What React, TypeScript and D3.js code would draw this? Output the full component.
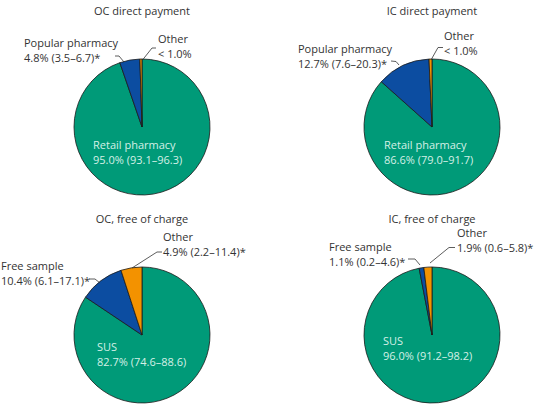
import React from 'react'
import * as d3 from 'd3'

// slice order (clockwise from 12 o'clock): main, second, other
const directCategories = ['Retail pharmacy', 'Popular pharmacy', 'Other']
const freeCategories = ['SUS', 'Free sample', 'Other']

const ocDirectValues = [95.0, 4.8, 0.5]
const icDirectValues = [86.6, 12.7, 0.7]
const ocFreeValues = [82.7, 10.4, 4.9]
const icFreeValues = [96.0, 1.1, 1.9]

const ocDirectLabels = ['95.0% (93.1–96.3)', '4.8% (3.5–6.7)*', '< 1.0%']
const icDirectLabels = ['86.6% (79.0–91.7)', '12.7% (7.6–20.3)*', '< 1.0%']
const ocFreeLabels = ['82.7% (74.6–88.6)', '10.4% (6.1–17.1)*', '4.9% (2.2–11.4)*']
const icFreeLabels = ['96.0% (91.2–98.2)', '1.1% (0.2–4.6)*', '1.9% (0.6–5.8)*']

const titles = ['OC direct payment', 'IC direct payment', 'OC, free of charge', 'IC, free of charge']

const colors = ['#009A78', '#0C4DA1', '#F39200']
const FONT = '"Open Sans", sans-serif'

interface PanelProps {
  cx: number
  cy: number
  title: string
  titleY: number
  categories: string[]
  values: number[]
  labels: string[]
  inner: [number, number]
  second: { x: number; y: number; leader: [number, number][] }
  other: { x: number; y: number; leader: [number, number][] }
}

const r = 68
const lh = 15

const Panel: React.FC<PanelProps> = ({ cx, cy, title, titleY, categories, values, labels, inner, second, other }) => {
  const pie = d3.pie<number>().sort(null).value(d => d)
  const arc = d3.arc<d3.PieArcDatum<number>>().innerRadius(0).outerRadius(r)
  const arcs = pie(values)
  const line = d3.line()
  return (
    <g>
      <text x={cx} y={titleY} textAnchor="middle" fontSize={11} fill="#333">{title}</text>
      <g transform={`translate(${cx},${cy})`}>
        {arcs.map((a, i) => (
          <path key={i} d={arc(a) || ''} fill={colors[i]} stroke="#1a1a1a" strokeWidth={0.8} strokeLinejoin="round" />
        ))}
        <text x={inner[0]} y={inner[1]} fontSize={11} fill="#d4f0e6">
          <tspan x={inner[0]}>{categories[0]}</tspan>
          <tspan x={inner[0]} dy={lh}>{labels[0]}</tspan>
        </text>
      </g>
      <text x={second.x} y={second.y} fontSize={11} fill="#333">
        <tspan x={second.x}>{categories[1]}</tspan>
        <tspan x={second.x} dy={lh}>{labels[1]}</tspan>
      </text>
      <text x={other.x} y={other.y} fontSize={11} fill="#333">
        <tspan x={other.x}>{categories[2]}</tspan>
        <tspan x={other.x} dy={lh}>{labels[2]}</tspan>
      </text>
      <path d={line(second.leader) || ''} fill="none" stroke="#333" strokeWidth={0.8} />
      <path d={line(other.leader) || ''} fill="none" stroke="#333" strokeWidth={0.8} />
    </g>
  )
}

export default function App() {
  return (
    <svg width={542} height={414} style={{ position: 'absolute', left: 0, top: 0, background: '#fff' }} fontFamily={FONT}>
      <Panel cx={142} cy={127} title={titles[0]} titleY={15} categories={directCategories} values={ocDirectValues}
        labels={ocDirectLabels} inner={[-49, 22]}
        second={{ x: 24, y: 47, leader: [[115, 56], [119, 56], [124, 62]] }}
        other={{ x: 158, y: 43, leader: [[156, 48], [152, 48], [142.5, 60]] }} />
      <Panel cx={432} cy={127} title={titles[1]} titleY={15} categories={directCategories} values={icDirectValues}
        labels={icDirectLabels} inner={[-48, 22]}
        second={{ x: 298, y: 53, leader: [[391, 61], [396, 61.5], [399, 65]] }}
        other={{ x: 444, y: 40, leader: [[443, 47.5], [438, 47.5], [431, 60]] }} />
      <Panel cx={142} cy={335} title={titles[2]} titleY={223} categories={freeCategories} values={ocFreeValues}
        labels={ocFreeLabels} inner={[-45, 16]}
        second={{ x: 1, y: 270, leader: [[89, 279], [95, 279], [100, 283]] }}
        other={{ x: 163, y: 241, leader: [[162, 252], [157, 252], [132, 268]] }} />
      <Panel cx={432} cy={335} title={titles[3]} titleY={223} categories={freeCategories} values={icFreeValues}
        labels={icFreeLabels} inner={[-49, 10]}
        second={{ x: 329, y: 251, leader: [[408, 259], [415, 259], [420, 265]] }}
        other={{ x: 457, y: 237, leader: [[455, 247.5], [449, 247.5], [430, 263]] }} />
    </svg>
  )
}
